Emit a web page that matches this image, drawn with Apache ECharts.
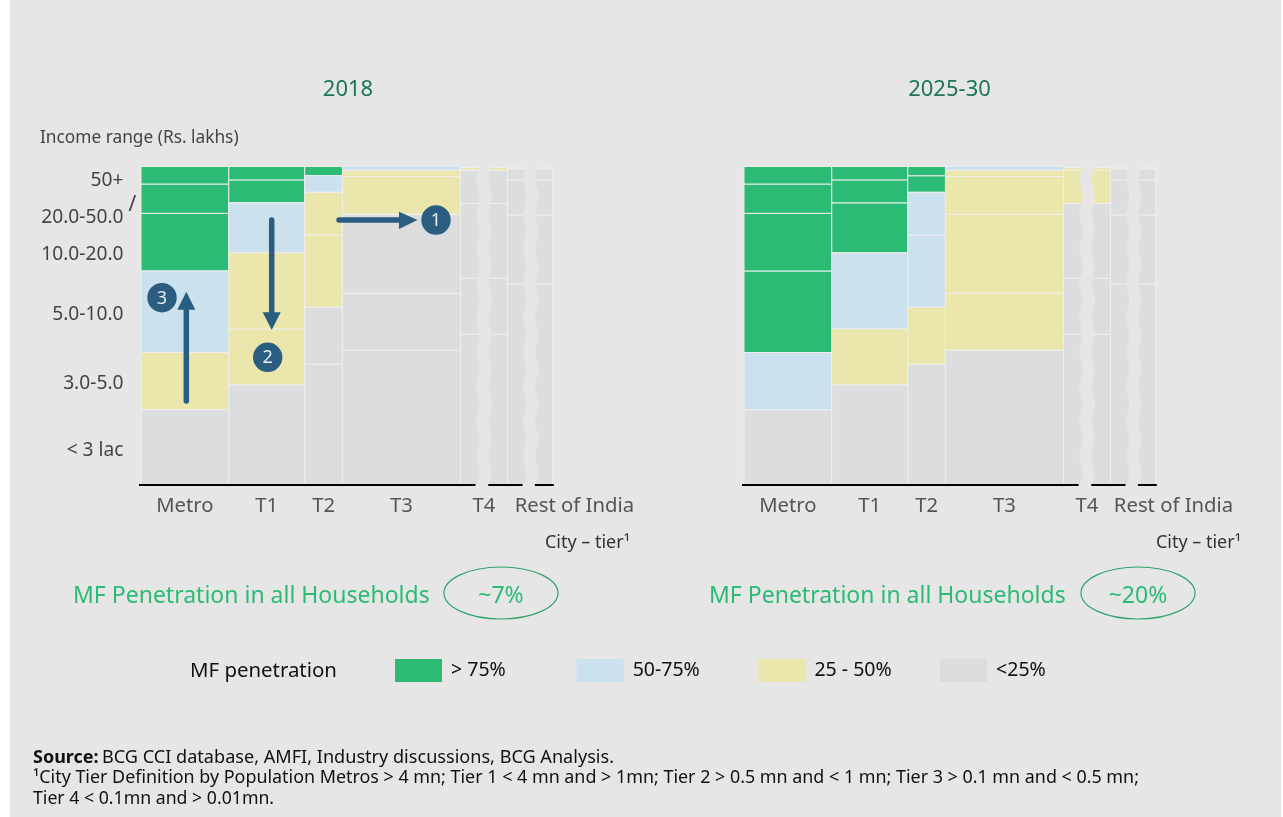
<!DOCTYPE html>
<html><head><meta charset="utf-8">
<style>
html,body{margin:0;padding:0;background:#fff;}
#bg{position:absolute;left:10px;top:0;width:1271px;height:817px;background:#e6e6e6;}
#chart{position:absolute;left:0;top:0;width:1283px;height:817px;}
</style>
<script src="https://cdn.jsdelivr.net/npm/echarts@6/dist/echarts.min.js"></script>
</head><body><div id="bg"></div><div id="chart"></div>
<script>
// ---- data ----
const cityTiers = ['Metro','T1','T2','T3','T4','Rest of India'];
const tierWidths = [21.3,18.45,9.15,28.65,11.4,11.0];      // share of households
const incomeLabels = ['< 3 lac','3.0-5.0','5.0-10.0','10.0-20.0','20.0-50.0','50+'];
const incomeTickPos = [10.9,31.9,53.6,72.5,84.1,95.5];
const metroShares = [23.6,18.0,25.6,18.1,9.2,5.5];
const t1Shares    = [31.4,17.6,23.9,15.7,7.2,4.2];
const t2Shares    = [37.9,17.9,22.7,13.4,5.2,2.9];
const t3Shares    = [42.3,17.9,24.8,11.9,1.9,1.3];
const t4Shares    = [47.3,17.6,23.5,10.4,0.9];
const restShares  = [63.1,21.7,11.0,3.5,0.3];
const penetrationNames = ['> 75%','50-75%','25 - 50%','<25%'];
// class index per income band: 0 >75, 1 50-75, 2 25-50, 3 <25
const classes2018 = [[3,2,1,0,0,0],[3,2,2,1,0,0],[3,3,2,2,1,0],[3,3,3,2,2,1],[3,3,3,3,2],[3,3,3,3,3]];
const classes2030 = [[3,1,0,0,0,0],[3,2,1,0,0,0],[3,2,1,1,0,0],[3,2,2,2,2,1],[3,3,3,2,2],[3,3,3,3,3]];
const panelTitles = ['2018','2025-30'];
const penetrationAll = ['~7%','~20%'];
const restLabelPos = [105.2,104.25];

// ---- styles ----
const FONT = '"Noto Sans", sans-serif';
const colors = ['#2bbb74','#cbe1ee','#ebe6ab','#dcddde'];
const BG = '#e6e6e6', SEAM = '#eeeeee', ARROW = '#2a5d80';
const allShares = [metroShares,t1Shares,t2Shares,t3Shares,t4Shares,restShares];

function rowsFor(classes, cls){
  const out = []; let x = 0;
  tierWidths.forEach((w,c)=>{
    let y = 0;
    allShares[c].forEach((s,b)=>{
      if (classes[c][b] === cls) out.push([x, x+w, y, y+s]);
      y += s;
    });
    x += w;
  });
  return out;
}
function rectItem(params, api){
  const a = api.coord([api.value(0), api.value(2)]);
  const b = api.coord([api.value(1), api.value(3)]);
  return {type:'rect',
    shape:{x:a[0], y:b[1], width:b[0]-a[0], height:a[1]-b[1]},
    style:{fill:api.visual('color'), stroke:SEAM, lineWidth:1}};
}
// wavy axis breaks across T4 and Rest of India
const breakLeftEdges = [81.3,92.65];
const breakWidth = 2.95, breakAmp = 0.97, breakStep = 5.42, breakStart = -1.65;
function breakItem(params, api){
  const left = api.value(0);
  const L = [], R = [];
  for (let i=0; i<21; i++){
    const y = breakStart + i*breakStep;
    const dx = i%2 ? breakAmp : 0;
    L.push(api.coord([left+dx, y]));
    R.push(api.coord([left+dx+breakWidth, y]));
  }
  return {type:'polygon', shape:{points:L.concat(R.reverse())}, style:{fill:BG}};
}
const baselineSegments = [[-0.49,81.2],[84.3,92.6],[95.6,100.2]];
function baselineItem(params, api){
  const a = api.coord([api.value(0),0]), b = api.coord([api.value(1),0]);
  return {type:'line', shape:{x1:a[0],y1:a[1],x2:b[0],y2:b[1]}, style:{stroke:'#000',lineWidth:2}};
}

const series = [];
[classes2018, classes2030].forEach((cl,p)=>{
  penetrationNames.forEach((name,i)=>{
    series.push({type:'custom', name, xAxisIndex:p, yAxisIndex:p, z:2,
      itemStyle:{color:colors[i]}, renderItem:rectItem, clip:false,
      encode:{x:[0,1], y:[2,3]}, data:rowsFor(cl,i), silent:true});
  });
  series.push({type:'custom', xAxisIndex:p, yAxisIndex:p, z:3, clip:false, silent:true,
    renderItem:breakItem, encode:{x:0}, data:breakLeftEdges.map(v=>[v])});
  series.push({type:'custom', xAxisIndex:p, yAxisIndex:p, z:4, clip:false, silent:true,
    renderItem:baselineItem, encode:{x:[0,1]}, data:baselineSegments});
});

function tierCenters(p){
  const out = []; let x = 0;
  tierWidths.forEach((w,i)=>{ out.push(i===5 ? restLabelPos[p] : x+w/2); x+=w; });
  return out;
}
function xAxisFor(p){
  const centers = tierCenters(p);
  return {type:'value', gridIndex:p, min:0, max:125,
    axisLine:{show:false}, axisTick:{show:false}, splitLine:{show:false},
    axisLabel:{customValues:centers, margin:11, fontFamily:FONT, fontSize:20.3, color:'#555',
      hideOverlap:false, showMinLabel:true, showMaxLabel:true,
      formatter:v=>cityTiers[centers.indexOf(v)]}};
}
function yAxisFor(p){
  return {type:'value', gridIndex:p, min:0, max:100,
    axisLine:{show:false}, axisTick:{show:false}, splitLine:{show:false},
    axisLabel: p===0 ? {customValues:incomeTickPos, margin:17.5, fontFamily:FONT, fontSize:19.2, color:'#444',
      formatter:v=>incomeLabels[incomeTickPos.indexOf(v)]} : {show:false}};
}

function txt(x,y,text,size,fill,align,extra){
  return Object.assign({type:'text', z:100, x, y, silent:true,
    style:{text, fontFamily:FONT, fontSize:size, fill, align:align||'left', verticalAlign:'middle'}},extra||{});
}
function badge(cx,cy,n){
  return [{type:'circle', z:101, silent:true, shape:{cx,cy,r:14.7}, style:{fill:ARROW}},
    Object.assign(txt(cx,cy+1,n,18,'#e8eef2','center'),{z:102})];
}
function arrow(x1,y1,x2,y2,pts){
  return [{type:'line', z:100, silent:true, shape:{x1,y1,x2,y2}, style:{stroke:ARROW,lineWidth:5.5,lineCap:'round'}},
    {type:'polygon', z:100, silent:true, shape:{points:pts}, style:{fill:ARROW}}];
}
const graphicEls = [
  txt(348,90,panelTitles[0],22,'#1b7557','center'),
  txt(949.5,90,panelTitles[1],22,'#1b7557','center'),
  txt(40,138,'Income range (Rs. lakhs)',17.3,'#444'),
  txt(132.5,205,'/',21,'#444','center'),
  txt(630,543,'City \u2013 tier\u00b9',18,'#333','right'),
  txt(1241,543,'City \u2013 tier\u00b9',18,'#333','right'),
  txt(73,596,'MF Penetration in all Households',23,'#2bbb74'),
  txt(709,596,'MF Penetration in all Households',23,'#2bbb74'),
  {type:'ellipse', z:100, silent:true, shape:{cx:501,cy:593,rx:57,ry:26}, style:{fill:'none',stroke:'#2ea56c',lineWidth:1.2}},
  {type:'ellipse', z:100, silent:true, shape:{cx:1138,cy:593,rx:57,ry:26}, style:{fill:'none',stroke:'#2ea56c',lineWidth:1.2}},
  txt(501,596,penetrationAll[0],23,'#2bbb74','center'),
  txt(1138,596,penetrationAll[1],23,'#2bbb74','center'),
  txt(190,671,'MF penetration',20.4,'#111'),
  ...arrow(339,220,400,220,[[399,211.7],[417.5,220],[399,229]]),
  ...arrow(271.7,220,271.7,313,[[262.7,312.3],[280.7,312.3],[271.7,330]]),
  ...arrow(186.3,401,186.3,310,[[177.3,309.7],[195.3,309.7],[186.3,291.7]]),
  ...badge(436,220,'1'), ...badge(267.7,357.3,'2'), ...badge(162,297.7,'3'),
  {type:'text', z:100, x:33, y:758, silent:true, style:{
    rich:{b:{fontFamily:FONT,fontSize:18,fontWeight:'bold',fill:'#111'},n:{fontFamily:FONT,fontSize:18.1,fill:'#111'}},
    text:'{b|Source:} {n|BCG CCI database, AMFI, Industry discussions, BCG Analysis.}', verticalAlign:'middle'}},
  txt(33,778,'\u00b9City Tier Definition by Population Metros > 4 mn; Tier 1 < 4 mn and > 1mn; Tier 2 > 0.5 mn and < 1 mn; Tier 3 > 0.1 mn and < 0.5 mn;',17.9,'#111'),
  txt(33,798.5,'Tier 4 < 0.1mn and > 0.01mn.',17.7,'#111')
];

const option = {
  animation:false,
  textStyle:{fontFamily:FONT},
  grid:[{left:141,top:166.5,width:515,height:318.5},{left:744,top:166.5,width:515,height:318.5}],
  xAxis:[xAxisFor(0),xAxisFor(1)],
  yAxis:[yAxisFor(0),yAxisFor(1)],
  legend:penetrationNames.map((n,i)=>({data:[n], left:395+181.7*i, top:659, padding:0, icon:'rect',
    itemWidth:47, itemHeight:23, selectedMode:false,
    textStyle:{fontFamily:FONT,fontSize:19.5,color:'#111',padding:[2,0,0,4]}})),
  graphic:{elements:graphicEls},
  series
};
echarts.init(document.getElementById('chart'),null,{renderer:'canvas'}).setOption(option);
</script></body></html>
